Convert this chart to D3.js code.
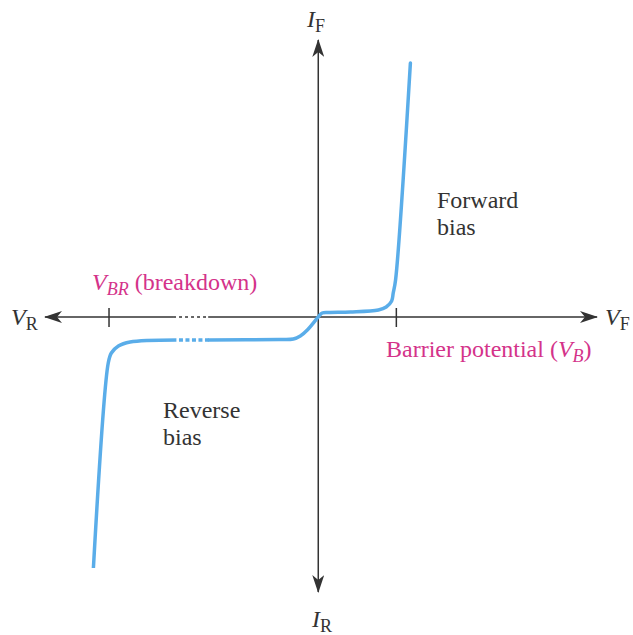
<!DOCTYPE html>
<html>
  <head>
    <style>
      body { margin: 0; background: #fff; }
    </style>
  </head>
  <body>
    <div id="my_dataviz"></div>

<script src="https://d3js.org/d3.v7.min.js"></script>

<script>
    // curve values (voltage in units of V_B, current in arbitrary units)
    var forwardV = [0, 0.05, 0.15, 0.41, 0.77, 0.87, 0.94, 0.96, 0.99, 1.18];
    var forwardI = [0, 0.08, 0.09, 0.10, 0.14, 0.20, 0.32, 0.48, 0.74, 5.08];
    var reverseV = [0, -0.14, -0.23, -0.32, -0.50, -1.40];
    var reverseI = [0, -0.26, -0.38, -0.44, -0.45, -0.46];
    var gapV = [-1.40, -1.82];
    var gapI = [-0.46, -0.46];
    var breakdownV = [-1.82, -2.41, -2.56, -2.65, -2.69, -2.88];
    var breakdownI = [-0.46, -0.50, -0.58, -0.72, -0.92, -5.02];

    // marked voltages on the axis
    var markV = [-2.68, 1.0];
    var axisGapV = [-1.86, -1.41];

    var width = 633,
        height = 635;

    var x = d3.scaleLinear().domain([-3.5, 3.57]).range([45, 597]);
    var y = d3.scaleLinear().domain([-5.5, 5.5]).range([592, 42]);

    var ink = "#333",
        pink = "#d4338a",
        blue = "#5aade9",
        fontFam = "'Liberation Serif'";

    var svg = d3.select("#my_dataviz")
      .append("svg")
        .attr("width", width)
        .attr("height", height);

    // arrowhead
    svg.append("defs").append("marker")
        .attr("id", "arrow")
        .attr("viewBox", "0 0 18 12")
        .attr("refX", 17)
        .attr("refY", 6)
        .attr("markerWidth", 18)
        .attr("markerHeight", 12)
        .attr("markerUnits", "userSpaceOnUse")
        .attr("orient", "auto")
      .append("path")
        .attr("d", "M0,0 L18,6 L0,12 L5,6 Z")
        .attr("fill", ink);

    var x0 = x(0), y0 = y(0);

    // horizontal axis, with broken section
    svg.append("line")
        .attr("x1", x(axisGapV[1])).attr("y1", y0)
        .attr("x2", x.range()[1]).attr("y2", y0)
        .attr("stroke", ink).attr("stroke-width", 1.5)
        .attr("marker-end", "url(#arrow)");
    svg.append("line")
        .attr("x1", x(axisGapV[0])).attr("y1", y0)
        .attr("x2", x.range()[0]).attr("y2", y0)
        .attr("stroke", ink).attr("stroke-width", 1.5)
        .attr("marker-end", "url(#arrow)");
    svg.append("line")
        .attr("x1", x(axisGapV[0])).attr("y1", y0)
        .attr("x2", x(axisGapV[1])).attr("y2", y0)
        .attr("stroke", ink).attr("stroke-width", 1.5)
        .attr("stroke-dasharray", "3,3");

    // vertical axis
    svg.append("line")
        .attr("x1", x0).attr("y1", y0)
        .attr("x2", x0).attr("y2", y.range()[1] - 2)
        .attr("stroke", ink).attr("stroke-width", 1.5)
        .attr("marker-end", "url(#arrow)");
    svg.append("line")
        .attr("x1", x0).attr("y1", y0)
        .attr("x2", x0).attr("y2", y.range()[0])
        .attr("stroke", ink).attr("stroke-width", 1.5)
        .attr("marker-end", "url(#arrow)");

    // tick marks
    svg.selectAll(".tick")
      .data(markV)
      .enter()
      .append("line")
        .attr("x1", function(d){ return x(d); })
        .attr("x2", function(d){ return x(d); })
        .attr("y1", y0 - 9)
        .attr("y2", y0 + 10)
        .attr("stroke", ink).attr("stroke-width", 1.5);

    // the curve
    var line = d3.line()
        .x(function(d){ return x(d[0]); })
        .y(function(d){ return y(d[1]); })
        .curve(d3.curveCatmullRom.alpha(0.5));

    var mainPts = d3.zip(reverseV, reverseI).reverse().concat(d3.zip(forwardV, forwardI).slice(1));

    svg.append("path")
        .attr("d", line(mainPts))
        .attr("fill", "none").attr("stroke", blue)
        .attr("stroke-width", 3.5).attr("stroke-linecap", "round");

    svg.append("path")
        .attr("d", line(d3.zip(gapV, gapI)))
        .attr("fill", "none").attr("stroke", blue)
        .attr("stroke-width", 3.5).attr("stroke-dasharray", "4,2.5");

    svg.append("path")
        .attr("d", line(d3.zip(breakdownV, breakdownI)))
        .attr("fill", "none").attr("stroke", blue)
        .attr("stroke-width", 3.5);

    // labels
    function label(px, py, color, parts, size) {
      var t = svg.append("text")
          .attr("x", px).attr("y", py)
          .attr("fill", color)
          .style("font-family", fontFam)
          .style("font-size", size + "px");
      parts.forEach(function(p) {
        var s = t.append("tspan").text(p.t).style("font-family", fontFam);
        if (p.i) s.style("font-style", "italic");
        if (p.sub) s.attr("dy", 5).style("font-size", (size * 0.75) + "px");
        if (p.up) s.attr("dy", -5);
      });
      return t;
    }

    label(307, 27, ink, [{t: "I", i: true}, {t: "F", sub: true}], 24);
    label(312, 627, ink, [{t: "I", i: true}, {t: "R", sub: true}], 24);
    label(11, 325, ink, [{t: "V", i: true}, {t: "R", sub: true}], 24);
    label(605, 325, ink, [{t: "V", i: true}, {t: "F", sub: true}], 24);

    label(92, 290, pink, [{t: "V", i: true}, {t: "BR", i: true, sub: true}, {t: " (breakdown)", up: true}], 24);
    label(386, 357, pink, [{t: "Barrier potential ("}, {t: "V", i: true}, {t: "B", i: true, sub: true}, {t: ")", up: true}], 24);

    label(437, 208, ink, [{t: "Forward"}], 24);
    label(437, 235, ink, [{t: "bias"}], 24);
    label(163, 418, ink, [{t: "Reverse"}], 24);
    label(163, 445, ink, [{t: "bias"}], 24);
</script>
  </body>
</html>
